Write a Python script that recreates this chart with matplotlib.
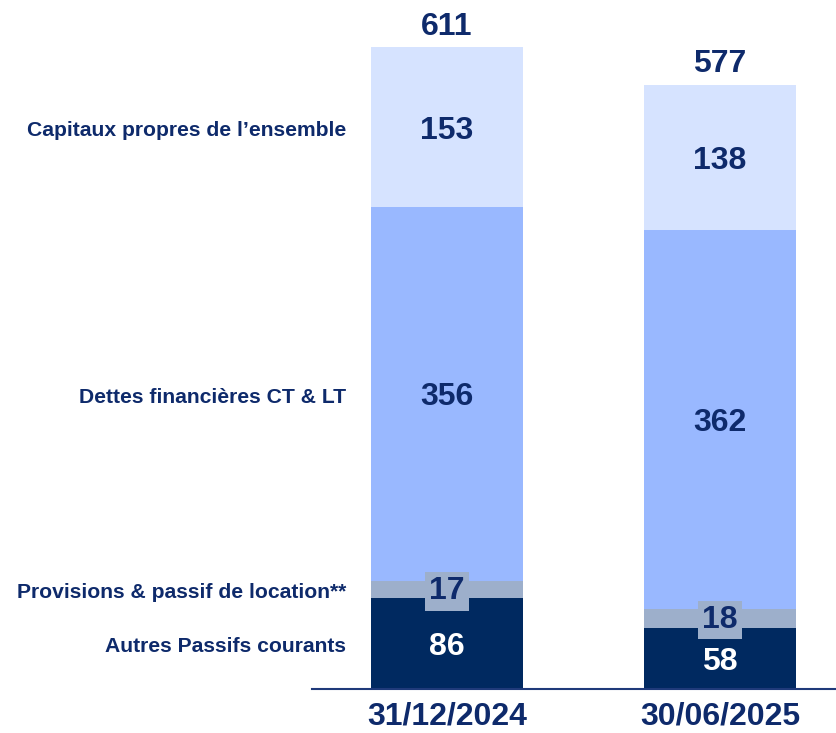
import matplotlib
matplotlib.use("Agg")
import matplotlib.pyplot as plt
from matplotlib.transforms import blended_transform_factory, offset_copy

plt.rcParams['font.family'] = ['Liberation Sans', 'DejaVu Sans']

periods = ["31/12/2024", "30/06/2025"]
categories = ["Autres Passifs courants", "Provisions & passif de location**",
              "Dettes financières CT & LT", "Capitaux propres de l\u2019ensemble"]
autres = [86, 58]
provisions = [17, 18]
dettes = [356, 362]
capitaux = [153, 138]
totals = [611, 577]

series = [autres, provisions, dettes, capitaux]
colors = ["#002960", "#9DAFCB", "#99B8FF", "#D6E3FF"]
navy = "#0E2A6B"

W, H = 837, 733
fig = plt.figure(figsize=(W / 100, H / 100), dpi=100)
ax = fig.add_axes([312 / W, (H - 688.5) / H, 1 - 312 / W, 688.5 / H])

x = [0, 1]
bw = 0.557
bottoms = [0, 0]
centers = []
for vals, col in zip(series, colors):
    ax.bar(x, vals, bw, bottom=bottoms, color=col, linewidth=0)
    centers.append([b + v / 2 for b, v in zip(bottoms, vals)])
    bottoms = [b + v for b, v in zip(bottoms, vals)]

fs = 23
down = offset_copy(ax.transData, fig=fig, x=0, y=-2.5, units='points')
for si, vals in enumerate(series):
    for i in range(2):
        kw = dict(ha='center', va='center', fontsize=fs, fontweight='bold', transform=down)
        if si == 0:
            ax.text(x[i], centers[si][i], str(vals[i]), color='white', **kw)
        elif si == 1:
            ax.text(x[i], centers[si][i] + 1.5, str(vals[i]), color=navy,
                    bbox=dict(facecolor=colors[1], edgecolor='none', pad=3), **kw)
        else:
            ax.text(x[i], centers[si][i], str(vals[i]), color=navy, **kw)

date_tr = blended_transform_factory(ax.transData, fig.transFigure)
for i in range(2):
    tr = offset_copy(ax.transData, fig=fig, x=0, y=4, units='points')
    ax.text(x[i], bottoms[i], str(totals[i]), ha='center', va='bottom',
            fontsize=fs, fontweight='bold', color=navy, transform=tr)
    ax.text(x[i], 1.2 / H, periods[i], ha='center', va='bottom', fontsize=fs,
            fontweight='bold', color=navy, transform=date_tr)

lab_tr = offset_copy(blended_transform_factory(fig.transFigure, ax.transData),
                     fig=fig, x=0, y=-2.5, units='points')
for ci, cat in enumerate(categories):
    ax.text(346 / W, centers[ci][0], cat, ha='right', va='center', fontsize=15.2,
            fontweight='bold', color=navy, transform=lab_tr)

ax.set_xlim(-0.4945, 1.4286)
ax.set_ylim(0, 657)
for s in ['top', 'right', 'left']:
    ax.spines[s].set_visible(False)
ax.spines['bottom'].set_color('#1F3A7A')
ax.spines['bottom'].set_linewidth(1.5)
ax.set_xticks([])
ax.set_yticks([])

fig.savefig("out.png", dpi=100)
